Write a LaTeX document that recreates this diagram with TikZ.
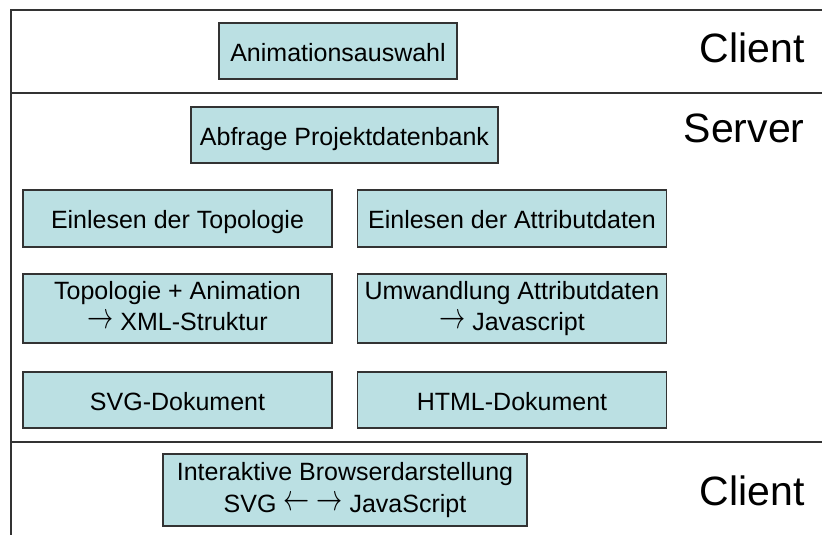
\documentclass[tikz,border=0pt]{standalone}
\usepackage{fontspec}
\setmainfont{Liberation Sans}
\usepackage{xcolor}
\usetikzlibrary{positioning}
\definecolor{stepbg}{HTML}{BBE0E3}
\definecolor{rulecol}{HTML}{333333}
\newcommand{\ra}{\raisebox{2pt}{\scalebox{1.05}[1.5]{$\rightarrow$}}}
\newcommand{\la}{\raisebox{2pt}{\scalebox{1.05}[1.5]{$\leftarrow$}}}

\begin{document}
\begin{tikzpicture}[
    x=1pt, y=-1pt,
    every node/.style={font=\fontsize{25}{31.5}\selectfont},
    stepbox/.style={draw=rulecol, line width=1.3pt, fill=stepbg, inner sep=0pt, align=center, minimum height=56pt,
        execute at begin node=\rule[-5.4pt]{0pt}{31.7pt}},
    twoline/.style={draw=rulecol, line width=1.3pt, fill=stepbg, inner sep=0pt, align=center,
        execute at begin node=\rule{0pt}{31pt}, execute at end node=\rule[-5.4pt]{0pt}{5.4pt}},
    wide/.style={stepbox, minimum width=309pt},
    layer/.style={font=\fontsize{41}{48}\selectfont, anchor=base east},
    rule/.style={draw=rulecol, line width=1.8pt}
]
\useasboundingbox (0,0) rectangle (822,535);
% Frame and layer borders
\coordinate (tl) at (11,10);
\coordinate (tr) at (822,10);
\coordinate (bl) at (11,535);
\coordinate (s1l) at (11,93);  \coordinate (s1r) at (822,93);
\coordinate (s2l) at (11,442); \coordinate (s2r) at (822,442);
\draw[rule] (tr) -- (tl) -- (bl);
\draw[rule] (s1l) -- (s1r);
\draw[rule] (s2l) -- (s2r);
% Client (top)
\node[stepbox, minimum width=238pt] (anim) at (338,51) {Animationsauswahl};
\node[layer] (client1) at (808,63) {Client};
% Server
\node[stepbox, minimum width=307pt] (abfrage) at (344.5,135) {Abfrage Projektdatenbank};
\node[layer] (server) at (808,142) {Server};
\node[wide, minimum height=57pt] (topo) at (177.5,218.5) {Einlesen der Topologie};
\node[wide, minimum height=57pt] (attr) at (512,218.5) {Einlesen der Attributdaten};
\node[twoline, minimum width=309pt, minimum height=69pt] (topoxml) at (177.5,308.5) {Topologie + Animation\\\ra\ XML-Struktur};
\node[twoline, minimum width=309pt, minimum height=69pt] (attrjs) at (512,308.5) {Umwandlung Attributdaten\\\ra\ Javascript};
\node[wide] (svgdoc) at (177.5,400) {SVG-Dokument};
\node[wide] (htmldoc) at (512,400) {HTML-Dokument};
% Client (bottom)
\node[twoline, minimum width=364pt, minimum height=72pt] (browser) at (345,490) {Interaktive Browserdarstellung\\SVG \la\ \ra\ JavaScript};
\node[layer] (client2) at (808,505) {Client};
\end{tikzpicture}
\end{document}
